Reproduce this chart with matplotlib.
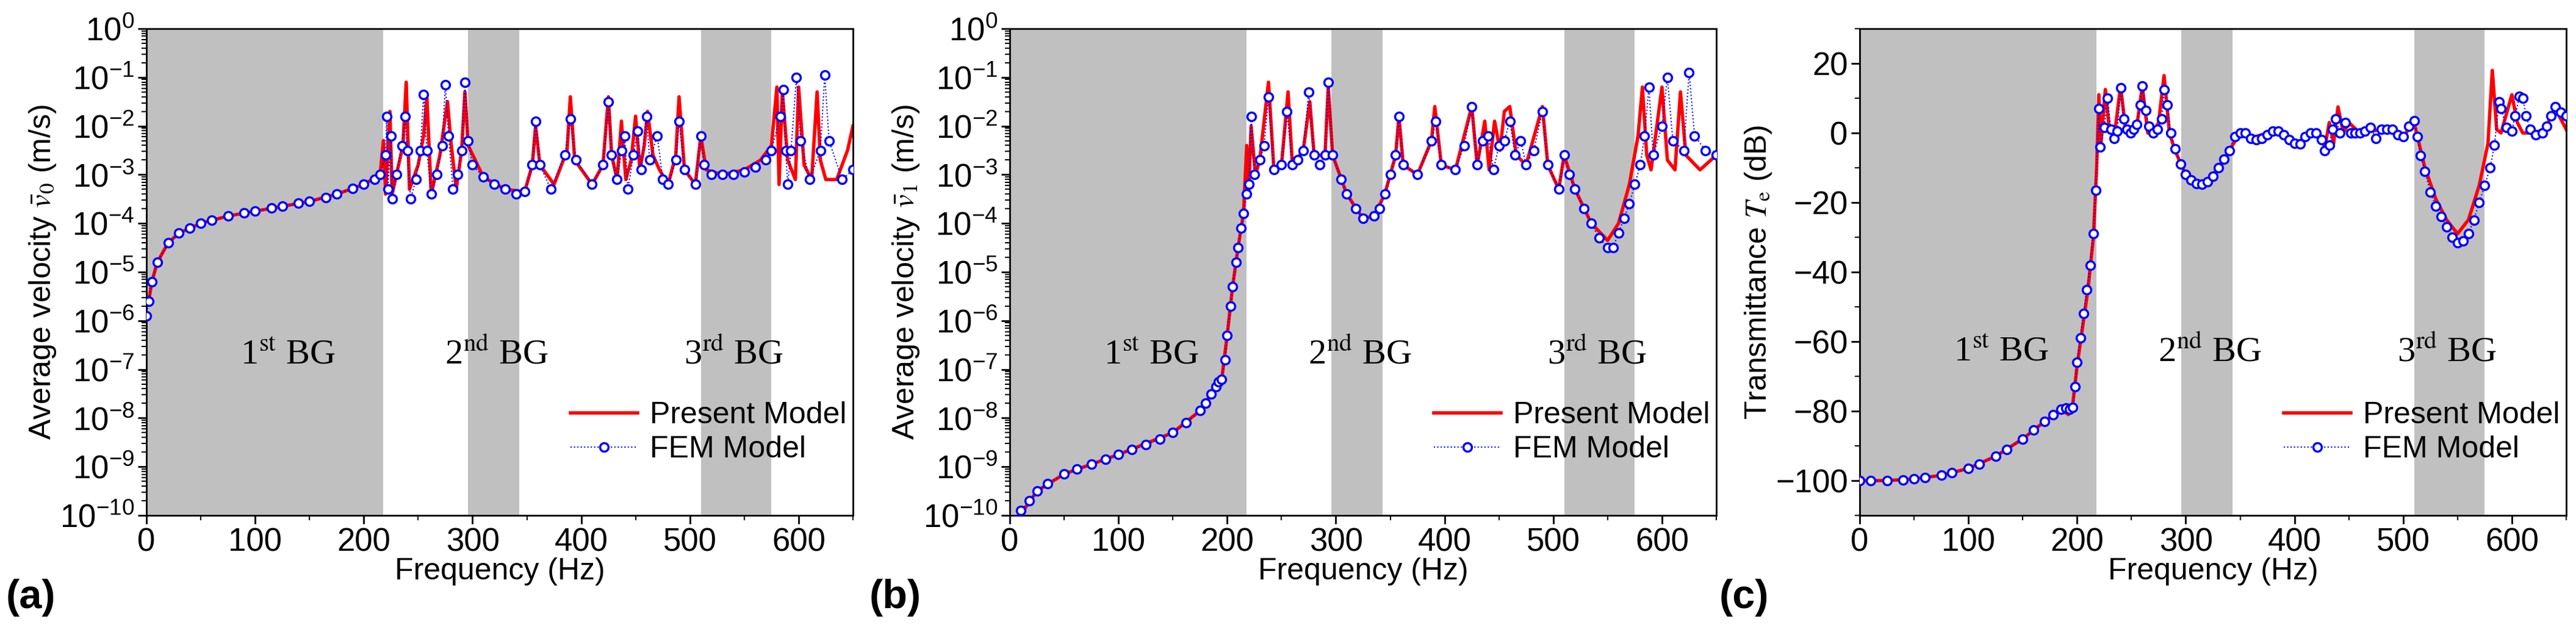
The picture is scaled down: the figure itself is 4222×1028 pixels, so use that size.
import numpy as np
import matplotlib.pyplot as plt
from matplotlib.ticker import LogLocator, MultipleLocator, NullFormatter

plt.rcParams["font.family"] = "Liberation Sans"
plt.rcParams["mathtext.fontset"] = "stix"

# panel (a): log10 of v0, FEM markers
fa = [0, 2, 5, 10, 20, 30, 40, 50, 60, 75, 90, 100, 115, 125, 140, 150, 165, 175, 190, 200, 210, 215,
      220, 221, 222, 225, 226, 230, 235, 238, 240, 243, 248, 252, 255, 258, 262, 267, 272, 275, 278, 282,
      286, 290, 293, 296, 300, 310, 320, 330, 340, 348, 355, 358, 362, 372, 385, 390, 395, 410, 420, 425,
      428, 433, 437, 440, 443, 448, 452, 455, 460, 463, 470, 475, 480, 487, 490, 495, 505, 510, 513, 520,
      530, 540, 550, 560, 570, 575, 583, 586, 588, 590, 593, 598, 602, 610, 620, 624, 628, 640, 650]
va = [-5.9, -5.6, -5.2, -4.8, -4.4, -4.2, -4.1, -4.0, -3.93, -3.85, -3.79, -3.75, -3.69, -3.65, -3.59, -3.55,
      -3.47, -3.4, -3.28, -3.2, -3.1, -3.0,
      -2.6, -1.8, -3.3, -2.2, -3.5, -3.0, -2.4, -1.8, -2.5, -3.5, -3.1, -2.5, -1.35, -2.5, -3.4, -3.0, -2.4,
      -1.15, -2.2, -3.3, -3.0, -2.5, -1.1, -2.3, -2.8, -3.05, -3.2, -3.3, -3.4, -3.35, -2.8, -1.9, -2.8, -3.3,
      -2.6, -1.85, -2.7, -3.2, -2.8, -1.5, -2.6, -3.1, -2.5, -2.2, -3.3, -2.6, -2.1, -2.9, -1.8, -2.7, -2.2,
      -3.1, -3.2, -2.7, -1.9, -2.9, -3.2, -2.2, -2.8, -3.0, -3.0, -3.0, -2.95, -2.85, -2.7, -2.5, -1.8, -1.25,
      -2.5, -3.2, -2.5, -1.0, -2.3, -3.1, -2.5, -0.95, -2.3, -3.1, -2.9]
# panel (a): Present model line
ra = [0, 2, 5, 10, 20, 30, 50, 75, 100, 125, 150, 175, 200, 215, 218, 220, 224, 226, 230, 236, 239, 242,
      250, 255, 258, 262, 270, 277, 280, 285, 290, 293, 296, 310, 330, 348, 355, 358, 362, 375, 387, 390,
      394, 410, 420, 425, 428, 433, 437, 441, 446, 450, 454, 458, 461, 466, 472, 480, 487, 490, 495, 505,
      510, 515, 530, 550, 565, 575, 580, 582, 585, 590, 597, 600, 605, 612, 617, 620, 625, 635, 645, 650]
rva = [-5.7, -5.6, -5.2, -4.8, -4.4, -4.2, -4.0, -3.85, -3.75, -3.65, -3.55, -3.4, -3.2, -3.0, -2.3, -3.4,
       -1.7, -3.4, -3.0, -2.4, -1.1, -3.3, -2.8, -2.2, -1.4, -3.4, -2.6, -1.5, -2.3, -3.3, -2.5, -1.3, -2.4,
       -3.05, -3.3, -3.35, -2.8, -2.0, -2.8, -3.2, -2.5, -1.4, -2.7, -3.2, -2.8, -1.4, -2.6, -3.1, -1.9, -3.1,
       -2.7, -1.8, -2.9, -2.4, -1.7, -2.6, -2.9, -3.2, -2.6, -1.4, -2.9, -3.2, -2.2, -2.9, -3.0, -2.9, -2.7,
       -2.4, -1.2, -3.2, -1.3, -2.7, -3.1, -1.2, -2.8, -3.1, -1.3, -2.7, -3.1, -3.1, -2.5, -2.0]

# panel (b): log10 of v1
fb = [0, 5, 10, 18, 25, 35, 50, 62, 75, 88, 100, 112, 125, 138, 150, 162, 175, 180, 185, 190, 192, 195,
      198, 200, 203, 205, 208, 210, 213, 215, 218, 220, 222, 225, 230, 234, 238, 243, 250, 255, 260, 265,
      270, 275, 280, 285, 290, 293, 297, 305, 310, 318, 325, 335, 340, 345, 350, 355, 358, 362, 375, 388,
      392, 397, 410, 418, 425, 430, 435, 440, 445, 450, 455, 460, 465, 470, 475, 482, 490, 495, 505, 510,
      515, 520, 528, 535, 542, 550, 555, 560, 565, 570, 575, 580, 584, 588, 592, 600, 605, 610, 620, 625,
      630, 640, 650]
vb = [-10.3, -10.1, -9.9, -9.7, -9.5, -9.35, -9.15, -9.05, -8.95, -8.85, -8.75, -8.65, -8.55, -8.43, -8.3,
      -8.1, -7.85, -7.7, -7.5, -7.35, -7.25, -7.2, -6.8, -6.3, -5.7, -5.3, -4.8, -4.5, -4.1, -3.8, -3.4,
      -3.2, -1.8, -3.0, -2.7, -2.4, -1.4, -2.9, -2.8, -1.7, -2.8, -2.7, -2.5, -1.3, -2.6, -2.8, -2.6, -1.1,
      -2.6, -3.1, -3.4, -3.7, -3.9, -3.85, -3.7, -3.4, -3.0, -2.6, -1.8, -2.8, -3.0, -2.3, -1.9, -2.8, -2.9,
      -2.4, -1.6, -2.8, -2.3, -2.2, -2.9, -2.4, -2.3, -1.9, -2.6, -2.3, -2.8, -2.5, -1.7, -2.8, -3.3, -2.6,
      -3.0, -3.3, -3.7, -4.0, -4.3, -4.5, -4.5, -4.2, -3.9, -3.6, -3.2, -2.8, -2.2, -1.2, -2.6, -2.0, -1.0,
      -2.3, -2.5, -0.9, -2.2, -2.5, -2.6]
rb_f = [0, 25, 50, 100, 150, 175, 190, 195, 200, 205, 210, 215, 218, 220, 222, 226, 230, 238, 243, 250,
        256, 260, 270, 276, 280, 290, 293, 297, 310, 325, 335, 345, 355, 358, 362, 375, 388, 391, 397, 410,
        425, 430, 437, 441, 446, 451, 455, 460, 466, 475, 490, 495, 505, 510, 520, 535, 550, 560, 570, 578,
        582, 586, 590, 600, 605, 612, 617, 622, 635, 650]
rb_v = [-10.3, -9.5, -9.15, -8.75, -8.3, -7.85, -7.35, -7.2, -6.3, -5.3, -4.5, -3.8, -2.4, -3.3, -2.0,
        -3.0, -2.7, -1.1, -2.9, -2.8, -1.3, -2.8, -2.5, -1.5, -2.6, -2.6, -1.2, -2.6, -3.4, -3.9, -3.85, -3.4,
        -2.6, -1.8, -2.8, -3.0, -2.3, -1.6, -2.8, -2.9, -1.6, -2.8, -1.9, -2.9, -1.9, -2.5, -1.7, -1.6, -2.6,
        -2.8, -1.6, -2.8, -3.3, -2.6, -3.3, -4.0, -4.35, -4.0, -3.2, -2.2, -1.2, -2.6, -2.9, -1.2, -2.7, -2.9,
        -1.3, -2.6, -2.9, -2.6]

# panel (c): transmittance in dB
fc = [0, 10, 25, 40, 50, 60, 75, 85, 100, 110, 125, 135, 150, 160, 170, 178, 185, 190, 193, 196, 198, 200,
      203, 206, 209, 212, 215, 217, 220, 221, 225, 228, 231, 234, 237, 240, 243, 246, 249, 252, 255, 258,
      260, 263, 266, 270, 274, 278, 280, 283, 286, 290, 295, 300, 305, 310, 315, 320, 325, 330, 335, 340,
      345, 350, 355, 360, 365, 370, 375, 380, 385, 390, 395, 400, 405, 410, 415, 420, 425, 428, 432, 435,
      438, 442, 447, 452, 456, 460, 465, 470, 475, 480, 485, 490, 495, 500, 505, 510, 513, 516, 520, 525,
      530, 535, 540, 545, 550, 555, 560, 565, 570, 575, 580, 584, 588, 590, 595, 600, 603, 607, 610, 613,
      617, 622, 628, 632, 636, 640, 645, 650]
vc = [-100, -100, -100, -99.8, -99.5, -99.1, -98.5, -97.8, -96.5, -95.2, -93, -91, -88, -85.5, -83,
      -81, -79.5, -79.2, -79.5, -79, -73, -66, -59, -52, -45, -38, -29, -16.5, 7, -4, 1.5, 10, 1, -1.5, 0.5,
      13, 4, 1, 0, 1, 2.5, 8, 13.5, 6.5, 2, 0, 1, 4, 12.5, 8, 0, -4.5, -9, -12, -13.5, -14.5, -14.8, -14,
      -12.5, -10, -7.5, -5, -1, 0, 0, -1.5, -2, -1.5, -0.5, 0.5, 0.5, -0.5, -2, -3, -3.2, -1, 0, 0, -2,
      -5, -3.5, 1, 4, 0, 3, 0, 0, 0, 0.5, 1.5, -1.5, 1, 1, 1, -0.5, -1, 2, 3.5, -1, -6.5, -11, -17, -21, -24,
      -27, -30, -31.5, -31, -29, -25, -20, -15, -10, -3.5, 9, 7, 1.5, 0.5, 5, 10.5, 10, 5, 1, -0.5, 0, 2, 5,
      7.5, 6, 5]
rc_f = [0, 25, 50, 75, 100, 125, 150, 170, 185, 192, 196, 200, 205, 210, 215, 218, 220, 222, 226, 230,
        235, 240, 245, 250, 255, 260, 265, 270, 275, 280, 285, 290, 300, 310, 320, 330, 340, 350, 360, 380,
        400, 420, 428, 432, 436, 440, 445, 450, 460, 480, 500, 510, 520, 530, 540, 550, 560, 570, 578, 582,
        586, 590, 600, 605, 610, 620, 630, 640, 650]
rc_v = [-100, -100, -99.5, -98.5, -96.5, -93, -88, -83, -79.5, -81, -78, -67, -56, -45, -30, -10, 11, -3,
        12.5, 0, 1, 13.5, 0, 1, 2, 13.5, 0, 0, 3, 16.5, 0, -5, -12, -14.5, -14, -10, -5, 0, -1.5, 0.5, -3, 0,
        -4, 3, -3, 7.5, 0, 3, 0, 1, -1, 3, -10, -19, -25, -29, -25, -15, -3, 18, 1, 0, 11, 3, 0, 0, 1, 7, 1]

fig = plt.figure(figsize=(42.22, 10.28), dpi=100)
lefts = [240 / 4222, 1655 / 4222, 3048 / 4222]
w = 1158 / 4222
bot = (1028 - 845) / 1028
h = (845 - 47) / 1028
bands = [(0, 218), (296, 343), (510, 575)]

panels = [
    (fa, va, ra, rva, "log", r"Average velocity $\bar{v}_0$ (m/s)", "(a)"),
    (fb, vb, rb_f, rb_v, "log", r"Average velocity $\bar{v}_1$ (m/s)", "(b)"),
    (fc, vc, rc_f, rc_v, "lin", r"Transmittance $T_{\rm e}$ (dB)", "(c)"),
]

for i, (fx, fy, rx, ry, kind, ylab, tag) in enumerate(panels):
    ax = fig.add_axes([lefts[i], bot, w, h])
    for a0, a1 in bands:
        ax.axvspan(a0, a1, color="#c0c0c0", lw=0, zorder=0)
    if kind == "log":
        fy_p = 10.0 ** np.array(fy)
        ry_p = 10.0 ** np.array(ry)
    else:
        fy_p = np.array(fy)
        ry_p = np.array(ry)
    ax.plot(rx, ry_p, color="red", lw=4, label="Present Model", zorder=2)
    ax.plot(fx, fy_p, color="blue", lw=1.5, ls=":", marker="o", ms=10, mfc="white", mec="blue", mew=2.5,
            label="FEM Model", zorder=3)
    ax.set_xlim(0, 650)
    ax.xaxis.set_major_locator(MultipleLocator(100))
    ax.xaxis.set_minor_locator(MultipleLocator(50))
    if kind == "log":
        ax.set_yscale("log")
        ax.set_ylim(1e-10, 1)
        ax.yaxis.set_major_locator(LogLocator(base=10, numticks=15))
        ax.yaxis.set_minor_locator(LogLocator(base=10, subs=np.arange(2, 10), numticks=15))
        ax.yaxis.set_minor_formatter(NullFormatter())
        ymid = 10 ** -6.7
    else:
        ax.set_ylim(-110, 30)
        ax.yaxis.set_major_locator(MultipleLocator(20))
        ax.yaxis.set_minor_locator(MultipleLocator(10))
        ymid = -63
    ax.tick_params(which="major", direction="out", length=10, width=2, labelsize=38, pad=4)
    ax.tick_params(which="minor", direction="out", length=6, width=1.5)
    for s in ax.spines.values():
        s.set_linewidth(2)
    ax.set_xlabel("Frequency (Hz)", fontsize=36, labelpad=0)
    ax.set_ylabel(ylab, fontsize=36, labelpad=2)
    for x, t in [(130, r"1$^{\rm st}$ BG"), (322, r"2$^{\rm nd}$ BG"), (540, r"3$^{\rm rd}$ BG")]:
        ax.text(x, ymid, t, fontsize=42, ha="center", va="center", family="Liberation Serif",
                math_fontfamily="stix")
    ax.legend(loc="lower right", frameon=False, fontsize=36, bbox_to_anchor=(1.03, 0.05),
              handlelength=2.2, labelspacing=0.2, handletextpad=0.4)
    fig.text(lefts[i] - 230 / 4222, 0.03, tag, fontsize=48, fontweight="bold")

fig.savefig("out.png", dpi=100)
